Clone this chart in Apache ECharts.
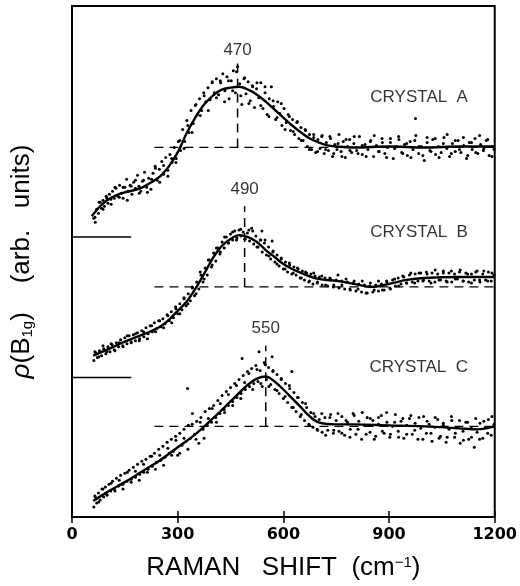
<!DOCTYPE html>
<html><head><meta charset="utf-8">
<script src="https://cdn.jsdelivr.net/npm/echarts@6/dist/echarts.min.js"></script>
<style>html,body{margin:0;padding:0;background:#fff}#c{width:520px;height:586px}</style>
</head><body><div id="c"></div>
<script>
// x tick labels (cm^-1)
const xTicks = [0, 300, 600, 900, 1200];

// smooth fitted curves (arb. units, stacked offsets)
const fitA = [[56,302],[80,312],[100,318],[125,323],[150,326],[175,328],[200,331],[225,336],[250,342],[275,352],[300,366],[325,385],[350,401],[375,414],[400,423],[425,429],[450,431],[475,432],[500,429],[525,424],[550,417],[575,409],[600,401],[625,393],[650,386],[675,380],[700,376],[725,373],[750,372],[800,371],[900,372],[1000,371],[1100,372],[1200,372]];
const fitB = [[60,162],[100,168],[150,176],[200,183],[250,191],[275,198],[300,207],[325,216],[350,229],[375,244],[400,260],[425,272],[450,279],[475,283],[500,281],[525,276],[550,268],[575,261],[600,254],[625,249],[650,245],[700,239],[750,237],[800,234],[850,231],[900,234],[950,238],[1000,240],[1100,241],[1200,241]];
const fitC = [[60,16],[100,25],[150,35],[200,46],[250,57],[300,70],[350,83],[400,99],[450,116],[500,133],[525,139],[550,141],[575,136],[600,128],[625,119],[650,110],[675,101],[700,95],[750,93],[800,93],[900,92],[1000,91],[1100,89],[1150,88],[1200,91]];

// measured points
const dotsA = [[62,300],[66,296],[70,309],[75,305],[80,316],[84,310],[88,318],[92,312],[97,322],[102,315],[106,324],[110,319],[115,327],[120,320],[125,330],[130,322],[135,333],[140,325],[145,320],[150,331],[155,339],[160,327],[165,333],[170,324],[175,336],[180,330],[186,343],[190,332],[195,327],[200,337],[206,346],[212,331],[218,340],[224,329],[230,345],[236,352],[242,338],[248,349],[255,357],[260,344],[266,361],[272,348],[278,364],[284,356],[290,371],[296,360],[302,377],[308,368],[314,389],[320,377],[326,398],[332,386],[338,408],[344,395],[350,413],[356,404],[362,420],[368,408],[374,426],[380,417],[386,431],[392,419],[398,437],[404,426],[410,440],[416,424],[422,436],[428,445],[434,428],[440,442],[446,420],[452,438],[458,448],[464,426],[470,452],[476,435],[482,414],[488,440],[494,425],[500,437],[506,418],[512,433],[518,411],[524,430],[530,421],[536,436],[542,410],[548,426],[554,404],[560,420],[566,432],[572,412],[578,399],[584,417],[590,405],[596,393],[602,410],[608,396],[614,404],[620,388],[626,399],[632,384],[638,396],[644,380],[650,391],[656,378],[662,389],[668,372],[674,384],[680,369],[686,381],[692,366],[698,379],[704,370],[710,383],[716,365],[722,376],[728,368],[734,380],[740,362],[746,374],[752,369],[758,384],[764,367],[770,377],[776,361],[782,372],[788,379],[794,366],[800,375],[808,368],[816,382],[824,364],[832,374],[840,369],[848,378],[856,362],[864,373],[872,367],[880,380],[888,365],[896,371],[904,376],[912,360],[920,372],[928,379],[936,366],[944,374],[952,363],[960,377],[968,369],[975,400],[976,383],[984,365],[992,372],[1000,358],[1008,376],[1016,368],[1024,379],[1032,364],[1040,372],[1048,366],[1056,381],[1064,370],[1072,362],[1080,375],[1088,367],[1096,378],[1104,366],[1112,373],[1120,360],[1128,376],[1136,369],[1144,380],[1152,365],[1160,374],[1168,368],[1176,378],[1184,363],[1192,372],[1198,369],
[65,301],[77,316],[88,309],[99,320],[111,314],[122,331],[134,321],[145,331],[157,318],[168,332],[180,338],[191,325],[203,338],[214,326],[226,339],[237,350],[249,336],[260,353],[272,342],[283,360],[295,356],[306,378],[318,370],[329,393],[341,386],[352,414],[364,403],[375,423],[387,408],[398,436],[410,421],[421,438],[433,417],[444,438],[456,428],[467,447],[479,423],[490,441],[502,415],[513,432],[525,436],[536,413],[548,432],[559,402],[571,418],[582,401],[594,415],[605,389],[617,402],[628,387],[640,397],[651,378],[663,388],[674,369],[686,384],[697,367],[709,382],[720,369],[732,382],[743,365],[755,375],[766,362],[778,379],[789,368],[801,382],[812,365],[824,373],[835,362],[847,377],[858,383],[870,367],[881,376],[893,361],[904,380],[916,370],[927,382],[939,365],[950,375],[962,361],[973,378],[985,372],[996,363],[1008,381],[1019,367],[1031,380],[1042,361],[1054,375],[1065,384],[1077,365],[1088,378],[1100,369],[1111,381],[1123,363],[1134,376],[1146,366],[1157,383],[1169,370],[1180,379],[1192,362]];
const dotsB = [[62,157],[67,165],[72,160],[78,167],[84,162],[90,169],[96,164],[102,171],[108,166],[114,173],[120,168],[126,175],[132,171],[138,178],[144,172],[150,180],[156,174],[162,182],[168,176],[174,183],[180,177],[186,185],[192,179],[198,187],[204,181],[210,190],[216,184],[222,192],[228,186],[234,195],[240,189],[246,197],[252,191],[258,199],[264,194],[270,203],[276,197],[282,206],[288,200],[294,211],[300,204],[306,214],[312,208],[318,219],[324,212],[330,224],[336,217],[342,230],[348,222],[354,236],[360,229],[366,243],[372,236],[378,250],[384,243],[390,258],[396,251],[402,265],[408,257],[414,270],[420,264],[426,276],[432,270],[438,281],[444,275],[450,284],[456,278],[462,287],[468,280],[474,288],[480,282],[486,286],[492,279],[498,285],[504,277],[510,290],[516,274],[522,282],[528,271],[534,278],[539,287],[540,266],[546,275],[552,263],[558,271],[564,259],[568,277],[570,266],[576,256],[582,263],[588,252],[594,259],[600,249],[606,256],[612,246],[618,253],[624,244],[630,251],[636,243],[642,249],[648,240],[654,247],[660,238],[666,245],[672,236],[678,244],[684,234],[690,242],[696,235],[702,241],[710,233],[718,240],[726,232],[734,239],[742,231],[750,238],[758,230],[766,237],[774,229],[782,236],[790,228],[798,235],[806,227],[814,234],[822,226],[830,233],[838,225],[846,232],[854,226],[862,233],[870,227],[878,234],[886,228],[894,236],[902,230],[910,238],[918,232],[926,240],[934,234],[942,241],[950,235],[958,243],[966,236],[974,244],[982,237],[990,245],[998,238],[1006,246],[1014,237],[1022,245],[1030,236],[1038,244],[1046,238],[1054,247],[1062,237],[1070,245],[1078,236],[1086,244],[1094,239],[1102,248],[1110,237],[1118,245],[1126,236],[1134,244],[1142,238],[1150,247],[1158,236],[1166,244],[1174,238],[1182,246],[1190,237],[1198,243],
[65,166],[76,161],[88,172],[99,166],[111,174],[122,167],[134,175],[145,171],[157,182],[168,175],[180,184],[191,177],[203,186],[214,179],[226,192],[237,186],[249,197],[260,190],[272,202],[283,195],[295,209],[306,204],[318,220],[329,214],[341,231],[352,224],[364,246],[375,239],[387,258],[398,253],[410,270],[421,266],[433,281],[444,275],[456,286],[467,278],[479,289],[490,279],[502,288],[513,287],[525,271],[536,278],[548,278],[559,262],[571,267],[582,254],[594,260],[605,249],[617,255],[628,245],[640,250],[651,240],[663,246],[674,237],[686,245],[697,236],[709,242],[720,233],[732,240],[743,233],[755,243],[766,233],[778,239],[789,229],[801,237],[812,229],[824,237],[835,225],[847,235],[858,228],[870,237],[881,228],[893,237],[904,229],[916,239],[927,232],[939,242],[950,235],[962,245],[973,235],[985,245],[996,237],[1008,244],[1019,235],[1031,248],[1042,238],[1054,245],[1065,236],[1077,247],[1088,239],[1100,246],[1111,237],[1123,244],[1134,235],[1146,246],[1157,238],[1169,247],[1180,237],[1192,245]];
const dotsC = [[62,10],[66,20],[70,14],[75,24],[80,17],[85,28],[90,20],[95,30],[100,22],[105,33],[110,26],[115,36],[120,28],[126,39],[132,31],[138,42],[144,33],[150,44],[156,36],[162,47],[168,38],[174,50],[180,40],[186,53],[192,43],[198,56],[204,45],[210,58],[216,48],[222,61],[228,51],[234,64],[240,55],[246,68],[252,57],[258,71],[264,60],[270,75],[276,64],[282,78],[288,66],[294,81],[300,62],[306,84],[312,72],[318,88],[324,76],[328,129],[330,92],[336,79],[342,104],[348,83],[354,96],[360,74],[366,100],[372,88],[378,106],[384,92],[390,109],[396,95],[402,112],[408,100],[414,117],[420,104],[426,122],[432,108],[438,126],[444,112],[450,130],[456,116],[462,134],[468,120],[474,138],[480,124],[483,159],[486,142],[492,128],[498,146],[504,131],[510,149],[516,134],[522,152],[528,136],[531,166],[534,147],[540,131],[546,155],[552,138],[558,150],[564,133],[568,161],[570,146],[576,128],[582,143],[588,124],[594,138],[600,119],[606,134],[612,115],[618,129],[624,146],[624,110],[630,125],[636,106],[642,120],[648,101],[654,115],[660,97],[666,110],[672,93],[678,105],[684,90],[690,101],[696,88],[702,98],[710,85],[718,100],[726,87],[734,103],[742,84],[750,97],[758,86],[766,101],[774,82],[782,95],[790,88],[798,104],[806,83],[814,96],[822,78],[830,92],[838,100],[846,85],[854,97],[862,81],[870,93],[878,102],[886,84],[894,95],[902,80],[910,91],[918,103],[926,86],[934,96],[942,79],[950,92],[958,99],[966,83],[974,94],[982,78],[990,89],[998,101],[1006,84],[1014,93],[1022,76],[1030,90],[1038,98],[1046,81],[1054,92],[1062,75],[1070,88],[1078,97],[1086,80],[1094,90],[1102,74],[1110,86],[1118,95],[1126,78],[1134,89],[1142,70],[1150,85],[1158,94],[1166,79],[1174,90],[1182,98],[1190,82],[1198,93],
[65,21],[76,15],[88,28],[99,22],[111,34],[122,26],[134,37],[145,28],[157,45],[168,35],[180,46],[191,37],[203,53],[214,45],[226,61],[237,48],[249,62],[260,52],[272,69],[283,62],[295,77],[306,64],[318,79],[329,68],[341,93],[352,78],[364,95],[375,79],[387,99],[398,109],[410,95],[421,114],[433,105],[444,123],[456,112],[467,132],[479,119],[490,135],[502,144],[513,128],[525,148],[536,134],[548,153],[559,131],[571,147],[582,127],[594,139],[605,121],[617,132],[628,110],[640,120],[651,103],[663,114],[674,92],[686,104],[697,87],[709,104],[720,82],[732,100],[743,87],[755,104],[766,84],[778,97],[789,80],[801,102],[812,88],[824,105],[835,83],[847,99],[858,78],[870,100],[881,86],[893,105],[904,83],[916,95],[927,80],[939,99],[950,83],[962,102],[973,87],[985,100],[996,78],[1008,96],[1019,84],[1031,100],[1042,79],[1054,94],[1065,80],[1077,101],[1088,84],[1100,97],[1111,77],[1123,95],[1134,80],[1146,99],[1157,78],[1169,96],[1180,84],[1192,101]];

// annotations
const peakShifts = [470, 490, 550];
const peakLabels = ['470', '490', '550'];
const peakLineTop = [456, 312, 172];
const baselineLevels = [371, 231, 91];
const baselineFrom = 234;
const peakLabelLevels = [469, 329, 189];
const crystalNames = ['CRYSTAL  A', 'CRYSTAL  B', 'CRYSTAL  C'];
const crystalLabelLevels = [421, 286, 150];
const crystalLabelShift = 1124;
const zeroMarkLevels = [281, 140];
const zeroMarkEnd = 168;

const chart = echarts.init(document.getElementById('c'), null, {renderer: 'canvas'});
const BLACK = '#000';
const series = [];
[dotsA, dotsB, dotsC].forEach(d => series.push({
  type: 'scatter', data: d, symbol: 'circle', symbolSize: 3,
  itemStyle: {color: BLACK, opacity: 1}, silent: true, z: 2
}));
[fitA, fitB, fitC].forEach(d => series.push({
  type: 'line', data: d, smooth: 0.35, showSymbol: false, symbol: 'none',
  lineStyle: {color: BLACK, width: 2.4}, silent: true, z: 3
}));
baselineLevels.forEach((lv, i) => {
  series.push({type: 'line', data: [[baselineFrom, lv], [1200, lv]], symbol: 'none',
    lineStyle: {color: BLACK, width: 1.3, type: [9, 6]}, silent: true, z: 1});
  series.push({type: 'line', data: [[peakShifts[i], lv], [peakShifts[i], peakLineTop[i]]], symbol: 'none',
    lineStyle: {color: BLACK, width: 1.5, type: [9, 6]}, silent: true, z: 4});
});
zeroMarkLevels.forEach(lv => series.push({type: 'line', data: [[0, lv], [zeroMarkEnd, lv]], symbol: 'none',
  lineStyle: {color: BLACK, width: 1.5}, silent: true}));
const labelFont = 'Liberation Sans, Arial, sans-serif';
series.push({
  type: 'scatter', symbolSize: 0, silent: true, z: 5,
  data: peakShifts.map((x, i) => ({value: [x, peakLabelLevels[i]], name: peakLabels[i]})),
  label: {show: true, position: 'inside', formatter: p => p.name, color: BLACK,
    fontFamily: labelFont, fontSize: 17}
});
series.push({
  type: 'scatter', symbolSize: 0, silent: true, z: 5,
  data: crystalNames.map((n, i) => ({value: [crystalLabelShift, crystalLabelLevels[i]], name: n})),
  label: {show: true, position: 'left', distance: 0, formatter: p => p.name, color: BLACK,
    fontFamily: labelFont, fontSize: 17}
});

const titleFont = 'Liberation Sans, Arial, sans-serif';
chart.setOption({
  backgroundColor: '#fff',
  animation: false,
  grid: {left: 72, top: 6, width: 425, height: 513, show: true, borderColor: BLACK, borderWidth: 2, backgroundColor: 'transparent'},
  xAxis: [{
    type: 'value', min: xTicks[0], max: xTicks[xTicks.length - 1], interval: xTicks[1] - xTicks[0], position: 'bottom',
    axisLine: {show: true, lineStyle: {color: BLACK, width: 2}},
    axisTick: {show: true, inside: true, length: 6, lineStyle: {color: BLACK, width: 1.5}},
    axisLabel: {show: true, color: BLACK, fontFamily: 'DejaVu Sans, sans-serif', fontWeight: 'bold', fontSize: 16, margin: 10,
      formatter: v => xTicks.includes(v) ? String(v) : ''},
    splitLine: {show: false},
    name: 'RAMAN   SHIFT  (cm{sup|−1})', nameLocation: 'middle', nameGap: 38,
    nameTextStyle: {color: BLACK, fontFamily: titleFont, fontSize: 26, rich: {sup: {fontSize: 15, verticalAlign: 'top', lineHeight: 26, color: BLACK, fontFamily: titleFont}}}
  }, {
    type: 'value', min: xTicks[0], max: xTicks[xTicks.length - 1], interval: xTicks[1] - xTicks[0], position: 'top',
    axisLine: {show: true, lineStyle: {color: BLACK, width: 2}},
    axisTick: {show: true, inside: true, length: 6, lineStyle: {color: BLACK, width: 1.5}},
    axisLabel: {show: false}, splitLine: {show: false}
  }],
  yAxis: [{
    type: 'value', min: 0, max: 513, position: 'left',
    axisLine: {show: true, lineStyle: {color: BLACK, width: 2}},
    axisTick: {show: false}, axisLabel: {show: false}, splitLine: {show: false},
    name: '{rho|ρ}(B{sub|1g})    (arb.   units)', nameLocation: 'middle', nameGap: 37, nameRotate: 90,
    nameTextStyle: {color: BLACK, fontFamily: titleFont, fontSize: 26, lineHeight: 26,
      rich: {rho: {fontStyle: 'italic', fontSize: 26, fontFamily: titleFont, color: BLACK},
             sub: {fontSize: 15, verticalAlign: 'bottom', lineHeight: 15, fontFamily: titleFont, color: BLACK}}}
  }, {
    type: 'value', min: 0, max: 513, position: 'right',
    axisLine: {show: true, lineStyle: {color: BLACK, width: 2}},
    axisTick: {show: false}, axisLabel: {show: false}, splitLine: {show: false}
  }],
  series: series
});
</script></body></html>
